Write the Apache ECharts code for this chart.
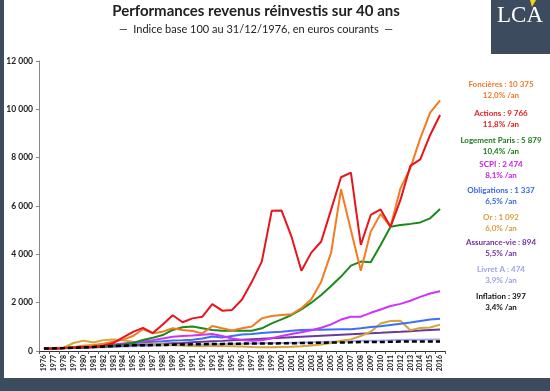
<!DOCTYPE html>
<html><head><meta charset="utf-8">
<script src="https://cdn.jsdelivr.net/npm/echarts@6/dist/echarts.min.js"></script>
<style>html,body{margin:0;padding:0;background:#fff}#c{width:550px;height:391px}</style>
</head><body><div id="c"></div>
<script>
const years = [];
for (let y = 1976; y <= 2016; y++) years.push(String(y));
const yTicks = [0, 2000, 4000, 6000, 8000, 10000, 12000];

const fonciere = [100,105,130,170,220,250,300,380,470,620,900,730,800,940,870,830,730,1035,940,850,940,1010,1350,1450,1490,1520,1770,2140,2870,4070,6690,5000,3320,4940,5670,5140,6730,7560,8800,9860,10375];
const actions = [100,90,110,140,170,160,220,330,560,790,960,740,1100,1480,1190,1350,1420,1940,1670,1700,2130,2870,3700,5800,5810,4730,3320,4070,4530,5850,7190,7380,4390,5630,5860,5140,6250,7660,7930,8940,9766];
const logement = [100,110,125,140,160,180,200,230,270,330,455,550,660,870,980,1010,940,870,840,840,840,840,940,1145,1310,1490,1720,2000,2320,2690,3080,3530,3700,3670,4390,5140,5210,5260,5320,5490,5879];
const scpi = [100,110,125,150,180,210,240,270,310,350,400,450,520,590,620,640,670,700,620,520,460,420,440,530,620,700,780,860,960,1100,1300,1420,1420,1580,1720,1860,1950,2080,2240,2380,2474];
const obligations = [100,110,120,135,145,165,200,240,280,320,360,380,400,430,440,470,520,600,560,620,680,700,740,780,800,840,870,880,880,890,900,900,940,990,1020,1080,1130,1180,1240,1300,1337];
const or = [100,120,150,330,430,350,450,480,440,380,330,300,280,250,230,210,200,220,210,200,190,170,160,160,170,180,200,230,270,330,420,480,620,800,1140,1240,1250,860,950,970,1092];
const assuranceVie = [100,110,121,133,147,162,179,197,216,236,256,276,296,316,336,357,378,399,419,440,461,483,505,527,549,571,592,613,634,655,676,697,716,735,756,778,799,821,845,870,894];
const livretA = [100,107,114,122,132,143,156,170,184,197,208,217,225,233,243,253,264,276,286,295,304,312,319,326,334,344,355,365,374,383,392,404,420,428,434,442,453,461,467,471,474];
const inflation = [100,109,119,131,148,168,187,205,220,233,239,246,252,261,269,277,283,289,294,299,305,308,310,312,317,322,328,335,342,348,353,358,368,368,374,382,390,393,395,395,397];

const names = ['Foncières','Actions','Logement Paris','SCPI','Obligations','Or','Assurance-vie','Livret A','Inflation'];
const finals = ['10 375','9 766','5 879','2 474','1 337','1 092','894','474','397'];
const rates = ['12,0%','11,8%','10,4%','8,1%','6,5%','6,0%','5,5%','3,9%','3,4%'];
const seriesData = [fonciere, actions, logement, scpi, obligations, or, assuranceVie, livretA, inflation];
const lineColors = ['#f47b20','#e8141c','#1a8a1a','#cc33ff','#3d6ff5','#d4a537','#6a3a9a','#a6a6ff','#000000'];
const textColors = ['#f07828','#e41c1c','#1e7b1e','#c81ee6','#3a66e6','#d4a040','#7030a0','#a0a0f0','#111111'];

const FONT = 'Lato';
const chart = echarts.init(document.getElementById('c'), null, {renderer:'canvas'});

// draw order: put inflation last, but keep order otherwise reversed so big lines on top
const order = [7,6,5,4,3,2,0,1,8];
const series = order.map(i => ({
  name: names[i], type: 'line', data: seriesData[i], symbol: 'none', smooth: false,
  lineStyle: {color: lineColors[i], width: i === 8 ? 2.5 : 2, type: i === 8 ? [5,3] : 'solid'},
  itemStyle: {color: lineColors[i]}, z: 3
}));

const legendY = [84,113,140,164,190,217,242,269,296];
const graphic = [
  {type:'rect', shape:{x:0,y:0,width:4,height:391}, style:{fill:'#3d4b5f'}, silent:true},
  {type:'rect', shape:{x:0,y:378,width:550,height:13}, style:{fill:'#3d4b5f'}, silent:true},
  {type:'rect', shape:{x:491,y:0,width:59,height:54}, style:{fill:'#3d4b5f'}, silent:true},
  {type:'text', x:520, y:4, style:{text:'LCA', fill:'#ffffff', font:'23px "Liberation Serif"', textAlign:'center', textVerticalAlign:'top'}},
  {type:'polygon', shape:{points:[[530,0],[536,0],[532,7]]}, style:{fill:'#f2d21b'}},
  {type:'text', x:256, y:4, style:{text:'Performances revenus réinvestis sur 40 ans', fill:'#222', font:'bold 15px '+FONT, textAlign:'center', textVerticalAlign:'top'}},
  {type:'text', x:256, y:24, style:{text:'—  Indice base 100 au 31/12/1976, en euros courants  —', fill:'#222', font:'11px '+FONT, textAlign:'center', textVerticalAlign:'top'}}
];
names.forEach((n,i) => {
  graphic.push({type:'text', x:501, y:legendY[i], style:{text:n+' : '+finals[i], fill:textColors[i], font:'bold 8px '+FONT, textAlign:'center', textVerticalAlign:'middle'}});
  graphic.push({type:'text', x:501, y:legendY[i]+11, style:{text:rates[i]+' /an', fill:textColors[i], font:'bold 8px '+FONT, textAlign:'center', textVerticalAlign:'middle'}});
});

chart.setOption({
  animation: false,
  grid: {left:39, right:105, top:61, bottom:40, containLabel:false},
  xAxis: {
    type:'category', data: years, boundaryGap: true,
    axisLine:{lineStyle:{color:'#333', width:1}},
    axisTick:{show:true, interval:0, length:3, lineStyle:{color:'#555'}},
    axisLabel:{interval:0, rotate:90, fontSize:7, fontWeight:'bold', color:'#222', fontFamily:FONT, margin:4}
  },
  yAxis: {
    type:'value', min: yTicks[0], max: yTicks[yTicks.length-1], interval: 2000,
    axisLine:{show:true, lineStyle:{color:'#888'}},
    axisTick:{show:true, length:3, lineStyle:{color:'#888'}},
    splitLine:{show:false},
    axisLabel:{fontSize:8.5, fontWeight:'bold', color:'#222', fontFamily:FONT, margin:6,
      formatter: v => String(v).replace(/\B(?=(\d{3})+(?!\d))/g, ' ')}
  },
  series: series,
  graphic: graphic
});
</script></body></html>
